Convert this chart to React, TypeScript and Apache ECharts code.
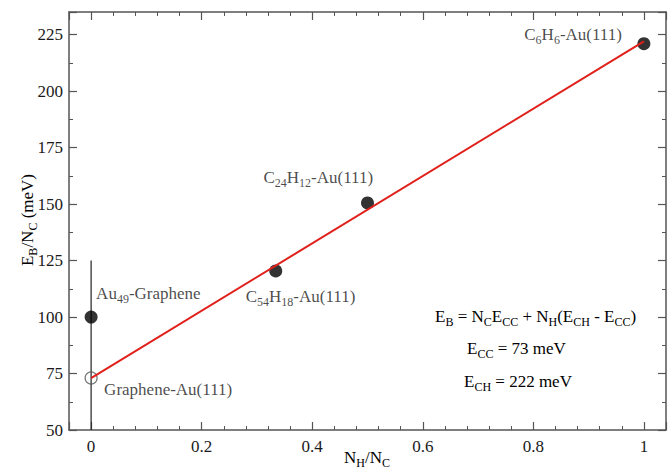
import React, { useEffect, useRef } from "react";
import * as echarts from "echarts";

const FONT = "'Liberation Serif', 'Times New Roman', Times, serif";
const TXT = "#1a1a1a";
const AXC = "#555555";

// data
const pointNames = ["Au49-Graphene", "Graphene-Au(111)", "C54H18-Au(111)", "C24H12-Au(111)", "C6H6-Au(111)"];
const pointX = [0, 0, 0.334, 0.5, 1];
const pointY = [100, 73, 120.4, 150.5, 221];
const pointHollow = [false, true, false, false, false];
const fitX = [0, 1];
const fitY = [73, 222];
const refX = [0, 0];
const refY = [50, 125];

const rich = () => ({
  n: { fontSize: 17, fontFamily: FONT, color: TXT, lineHeight: 23 },
  s: { fontSize: 12, fontFamily: FONT, color: TXT, lineHeight: 12, verticalAlign: "bottom" },
});

const pointLabels = [
  "{n|Au}{s|49}{n|-Graphene}",
  "{n|Graphene-Au(111)}",
  "{n|C}{s|54}{n|H}{s|18}{n|-Au(111)}",
  "{n|C}{s|24}{n|H}{s|12}{n|-Au(111)}",
  "{n|C}{s|6}{n|H}{s|6}{n|-Au(111)}",
];
const labelAlign = ["left", "left", "left", "left", "right"];
const labelOffset = [
  [5, -24],
  [13, 11],
  [-30, 26],
  [-104, -25],
  [-22, -9],
];

const tick = () => ({ show: true, inside: true, length: 8, lineStyle: { color: AXC, width: 1.2 } });
const minor = (n: number) => ({ show: true, splitNumber: n, length: 4, lineStyle: { color: AXC, width: 1 } });
const axLine = () => ({ show: true, onZero: false, lineStyle: { color: AXC, width: 1.5 } });
const label = (margin: number, fmt: (v: number) => string) => ({
  show: true,
  margin,
  fontFamily: FONT,
  fontSize: 17,
  color: TXT,
  formatter: fmt,
});

export default function App() {
  const ref = useRef<HTMLDivElement>(null);
  useEffect(() => {
    if (!ref.current) return;
    const chart = echarts.init(ref.current, null, { renderer: "svg" });

    const scatterData = pointX.map((x, i) => ({
      value: [x, pointY[i]],
      name: pointNames[i],
      symbolSize: pointHollow[i] ? 12 : 13,
      itemStyle: pointHollow[i]
        ? { color: "rgba(255,255,255,0)", borderColor: "#555", borderWidth: 1.2 }
        : { color: "#000", borderWidth: 0 },
      label: {
        show: true,
        position: "inside",
        align: labelAlign[i],
        verticalAlign: "middle",
        offset: labelOffset[i],
        formatter: pointLabels[i],
        rich: rich(),
      },
    }));

    chart.setOption({
      animation: false,
      grid: { left: 69, right: 4, top: 12, bottom: 40, outerBoundsMode: "none" },
      xAxis: [
        {
          type: "value",
          min: -0.04,
          max: 1.04,
          position: "bottom",
          splitLine: { show: false },
          axisTick: tick(),
          axisLine: axLine(),
          minorTick: minor(5),
          axisLabel: label(8, (v: number) => (v < 0 || v > 1 ? "" : String(v))),
        },
        {
          type: "value",
          min: -0.04,
          max: 1.04,
          position: "top",
          splitLine: { show: false },
          axisTick: tick(),
          axisLine: axLine(),
          minorTick: minor(5),
          axisLabel: label(8, () => ""),
        },
      ],
      yAxis: [
        {
          type: "value",
          min: 50,
          max: 235,
          interval: 25,
          position: "left",
          splitLine: { show: false },
          axisTick: tick(),
          axisLine: axLine(),
          minorTick: minor(2),
          axisLabel: label(6, (v: number) => (v > 225 ? "" : String(v))),
        },
        {
          type: "value",
          min: 50,
          max: 235,
          interval: 25,
          position: "right",
          splitLine: { show: false },
          axisTick: tick(),
          axisLine: axLine(),
          minorTick: minor(2),
          axisLabel: label(6, () => ""),
        },
      ],
      series: [
        {
          type: "line",
          data: refX.map((x, i) => [x, refY[i]]),
          symbol: "none",
          lineStyle: { color: "#222", width: 1.2 },
          z: 1,
        },
        {
          type: "line",
          data: fitX.map((x, i) => [x, fitY[i]]),
          symbol: "none",
          lineStyle: { color: "#e0201b", width: 2 },
          z: 3,
        },
        {
          type: "scatter",
          data: scatterData,
          z: 2,
        },
      ],
      graphic: [
        {
          type: "text",
          x: 27,
          y: 220,
          rotation: Math.PI / 2,
          style: {
            text: "{n|E}{s|B}{n|/N}{s|C}{n| (meV)}",
            rich: rich(),
            align: "center",
            verticalAlign: "middle",
          },
        },
        {
          type: "text",
          x: 367,
          y: 457,
          style: {
            text: "{n|N}{s|H}{n|/N}{s|C}",
            rich: rich(),
            align: "center",
            verticalAlign: "middle",
          },
        },
        {
          type: "text",
          left: 435,
          top: 308,
          style: {
            text: "{n|E}{s|B}{n| = N}{s|C}{n|E}{s|CC}{n| + N}{s|H}{n|(E}{s|CH}{n| - E}{s|CC}{n|)}",
            rich: rich(),
          },
        },
        {
          type: "text",
          left: 467,
          top: 340,
          style: { text: "{n|E}{s|CC}{n| = 73 meV}", rich: rich() },
        },
        {
          type: "text",
          left: 464,
          top: 373,
          style: { text: "{n|E}{s|CH}{n| = 222 meV}", rich: rich() },
        },
      ],
    });
    return () => chart.dispose();
  }, []);
  return <div ref={ref} style={{ position: "fixed", left: 0, top: 0, width: 670, height: 470, background: "#fff" }} />;
}
